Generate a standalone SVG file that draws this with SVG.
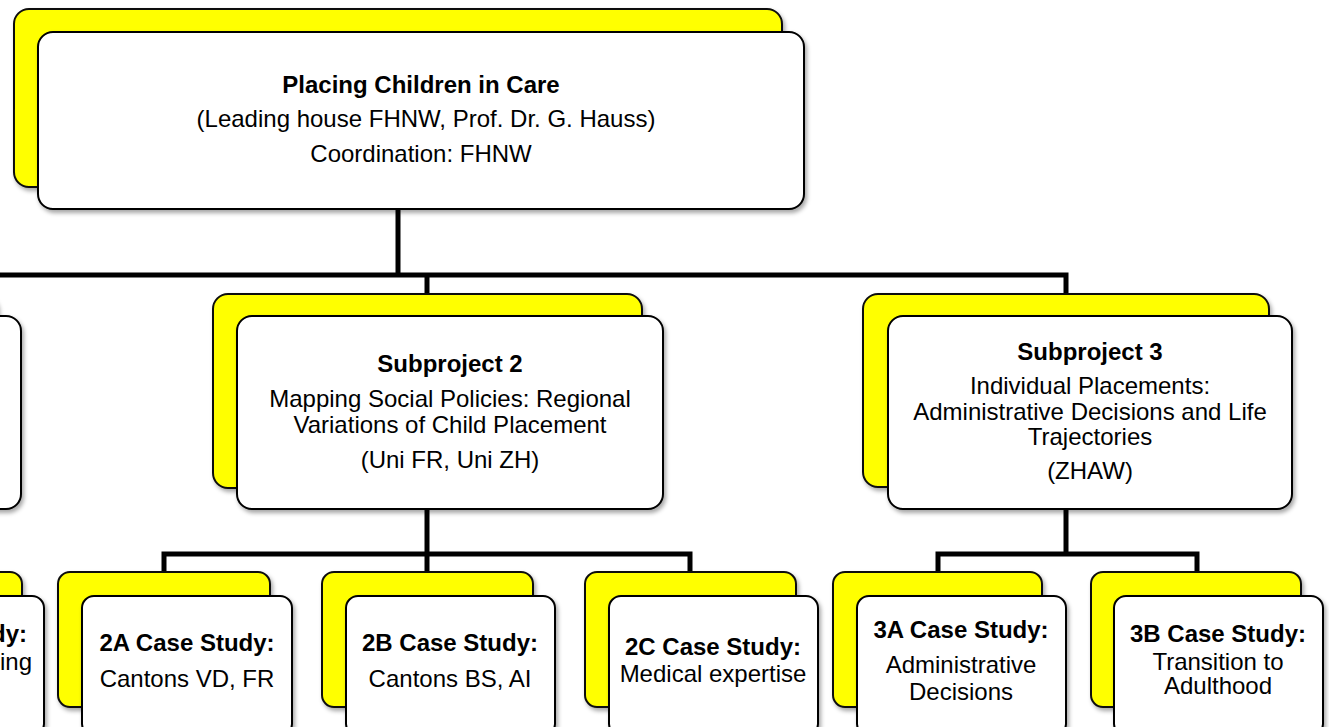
<svg xmlns="http://www.w3.org/2000/svg" width="1329" height="727" viewBox="0 0 1329 727">
<defs>
<filter id="sh" x="-10%" y="-10%" width="130%" height="130%">
<feDropShadow dx="2" dy="3" stdDeviation="2" flood-color="#000" flood-opacity="0.35"/>
</filter>
<style>
.y{fill:#ffff00;stroke:#111;stroke-width:2;filter:url(#sh)}
.w{fill:#fff;stroke:#000;stroke-width:2;filter:url(#sh)}
.c{fill:none;stroke:#000;stroke-width:5;stroke-linejoin:miter;stroke-linecap:butt}
text{font-family:"Liberation Sans",Arial,Helvetica,sans-serif;font-size:24px;fill:#000;text-anchor:middle}
.b{font-weight:bold}
</style>
</defs>
<rect width="1329" height="727" fill="#fff"/>
<g id="connectors">
<path class="c" d="M398 209 V275"/>
<path class="c" d="M-100 294 V275 H1066 V294"/>
<path class="c" d="M427 275 V294"/>
<path class="c" d="M427 509 V572"/>
<path class="c" d="M164 572 V554 H690 V572"/>
<path class="c" d="M1066 509 V554"/>
<path class="c" d="M938 572 V554 H1197 V572"/>
</g>
<g id="root">
<rect class="y" x="14" y="9" width="768" height="178" rx="15"/>
<rect class="w" x="38" y="32" width="766" height="177" rx="15"/>
<text class="b" x="421" y="93">Placing Children in Care</text>
<text x="426" y="127">(Leading house FHNW, Prof. Dr. G. Hauss)</text>
<text x="421" y="162">Coordination: FHNW</text>
</g>
<g id="sp1">
<rect class="y" x="-430" y="294" width="427" height="194" rx="15"/>
<rect class="w" x="-405" y="316" width="426" height="193" rx="15"/>
</g>
<g id="sp2">
<rect class="y" x="213" y="294" width="429" height="194" rx="15"/>
<rect class="w" x="237" y="316" width="426" height="193" rx="15"/>
<text class="b" x="450" y="372">Subproject 2</text>
<text x="450" y="407">Mapping Social Policies: Regional</text>
<text x="450" y="433">Variations of Child Placement</text>
<text x="450" y="468">(Uni FR, Uni ZH)</text>
</g>
<g id="sp3">
<rect class="y" x="863" y="294" width="406" height="193" rx="15"/>
<rect class="w" x="888" y="316" width="404" height="193" rx="15"/>
<text class="b" x="1090" y="360">Subproject 3</text>
<text x="1090" y="394">Individual Placements:</text>
<text x="1090" y="420">Administrative Decisions and Life</text>
<text x="1090" y="445">Trajectories</text>
<text x="1090" y="479">(ZHAW)</text>
</g>
<g id="cs1">
<rect class="y" x="-190" y="572" width="212" height="135" rx="12"/>
<rect class="w" x="-166" y="596" width="210" height="140" rx="12"/>
<text class="b" x="27" y="642" style="text-anchor:end">dy:</text>
<text x="32" y="670" style="text-anchor:end">ing</text>
</g>
<g id="cs2a">
<rect class="y" x="58" y="572" width="212" height="135" rx="12"/>
<rect class="w" x="82" y="596" width="210" height="140" rx="12"/>
<text class="b" x="187" y="651">2A Case Study:</text>
<text x="187" y="687">Cantons VD, FR</text>
</g>
<g id="cs2b">
<rect class="y" x="322" y="572" width="211" height="135" rx="12"/>
<rect class="w" x="346" y="596" width="209" height="140" rx="12"/>
<text class="b" x="450" y="651">2B Case Study:</text>
<text x="450" y="687">Cantons BS, AI</text>
</g>
<g id="cs2c">
<rect class="y" x="585" y="572" width="211" height="135" rx="12"/>
<rect class="w" x="609" y="596" width="209" height="140" rx="12"/>
<text class="b" x="713" y="655">2C Case Study:</text>
<text x="713" y="682">Medical expertise</text>
</g>
<g id="cs3a">
<rect class="y" x="833" y="572" width="209" height="135" rx="12"/>
<rect class="w" x="857" y="596" width="209" height="140" rx="12"/>
<text class="b" x="961" y="638">3A Case Study:</text>
<text x="961" y="673">Administrative</text>
<text x="961" y="700">Decisions</text>
</g>
<g id="cs3b">
<rect class="y" x="1091" y="572" width="210" height="135" rx="12"/>
<rect class="w" x="1114" y="596" width="209" height="140" rx="12"/>
<text class="b" x="1218" y="642">3B Case Study:</text>
<text x="1218" y="670">Transition to</text>
<text x="1218" y="694">Adulthood</text>
</g>
</svg>
